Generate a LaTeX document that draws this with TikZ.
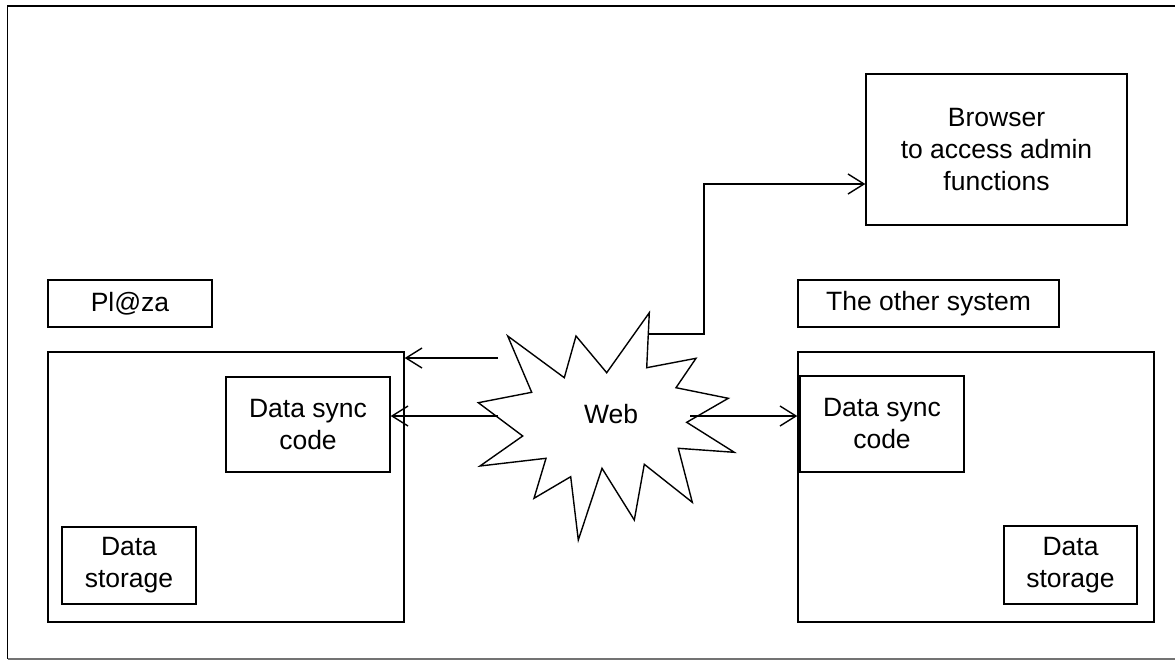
\documentclass[tikz,border=0pt]{standalone}
\usepackage{fontspec}
\setmainfont{Liberation Sans}
\usetikzlibrary{arrows.meta}
\begin{document}
\begin{tikzpicture}[x=1pt,y=-1pt,
  box/.style={draw, line width=1.4pt, rectangle, inner sep=0pt, align=center, font=\fontsize{26.5}{32}\selectfont},
  conn/.style={line width=1.4pt, -{Straight Barb[length=16pt,width=20pt,line width=1.4pt]}},
  lbl/.style={font=\fontsize{26.5}{32}\selectfont, inner sep=0pt}]
\useasboundingbox (0,0) rectangle (1175,662);
\draw[line width=1.6pt] (1180,6) -- (7.5,6) -- (7.5,659);
\draw[line width=1.6pt, black!55] (7.5,659) -- (1180,659);

% left system
\node[box, minimum width=164pt, minimum height=47pt] (plaza) at (130,303.5) {Pl@za};
\node[box, minimum width=356pt, minimum height=270pt] (lbig) at (226,487) {};
\node[box, minimum width=164pt, minimum height=95pt] (lsync) at (308,424.5) {Data sync\\code};
\node[box, minimum width=134pt, minimum height=77pt] (lstore) at (129,565.5) {Data\\storage};

% right system
\node[box, minimum width=261pt, minimum height=151pt] (browser) at (996.5,149.5) {Browser\\to access admin\\functions};
\node[box, minimum width=261pt, minimum height=47pt] (other) at (928.5,303.5) {The other system};
\node[box, minimum width=356pt, minimum height=270pt] (rbig) at (976,487) {};
\node[box, minimum width=164pt, minimum height=96pt] (rsync) at (882,424) {Data sync\\code};
\node[box, minimum width=133pt, minimum height=78pt] (rstore) at (1070.5,565) {Data\\storage};

% web star
\draw[line width=1.4pt, fill=white]
  (507.7,336) -- (564.3,377.7) -- (576,336) -- (606.7,372.7) -- (649.3,312.7)
  -- (646.7,367.7) -- (696,358.3) -- (676,387.7) -- (728.3,398.3) -- (686.7,422.3)
  -- (734.3,452.3) -- (678.3,448.3) -- (692.3,502.3) -- (644.3,464.3) -- (634.3,520)
  -- (602,468.3) -- (578.3,540) -- (570.7,476.7) -- (534,498.3) -- (546,458.3)
  -- (480,466) -- (522.7,436) -- (478.3,402.7) -- (531.7,392.3) -- cycle;
\node[lbl] (web) at (611,414) {Web};

\coordinate (wl1) at (498,358);
\coordinate (wl2) at (498,416);
\coordinate (wr) at (690,416);
\coordinate (wb) at (648.3,334);
\coordinate (bend) at (704,334);

\draw[conn] (wl1) -- (lbig.east |- wl1);
\draw[conn] (wl2) -- (lsync.east |- wl2);
\draw[conn] (wr) -- (rbig.west |- wr);
\draw[conn] (wb) -- (bend) |- ([yshift=-34.5pt]browser.west);
\end{tikzpicture}
\end{document}
